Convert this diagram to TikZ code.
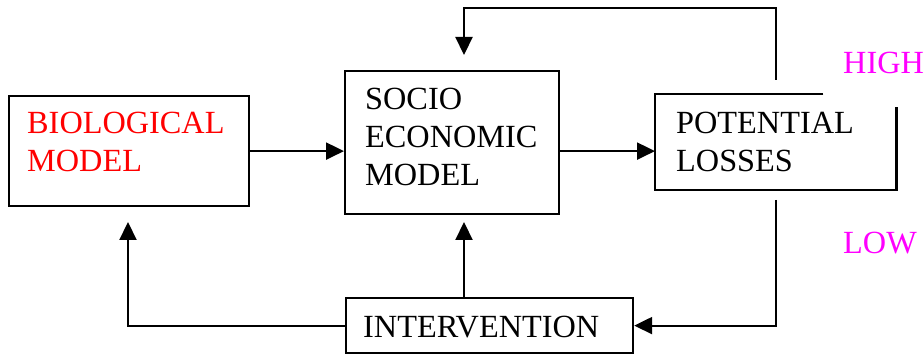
\documentclass[tikz,border=0pt]{standalone}
\usepackage{fontspec}
\setmainfont{Liberation Serif}
\usetikzlibrary{arrows.meta}
\definecolor{mag}{RGB}{255,0,255}
\begin{document}
\begin{tikzpicture}[x=1pt,y=-1pt,
  box/.style={draw, line width=2.2pt, inner sep=0pt, anchor=north west},
  lbl/.style={anchor=base west, inner sep=0pt, align=left, font=\fontsize{32.3}{38}\selectfont},
  conn/.style={line width=2.2pt, -{Triangle[length=18pt,width=17pt]}},
  wire/.style={line width=2.2pt}]
\useasboundingbox (0,0) rectangle (924,358);
% boxes
\node[box, minimum width=240pt, minimum height=110pt] (bio) at (8,95) {};
\node[box, minimum width=214pt, minimum height=143pt] (se) at (344,70) {};
\node[inner sep=0pt, anchor=north west, minimum width=241pt, minimum height=96pt] (pl) at (655,94) {};
\draw[wire, line join=miter] ([xshift=-73pt]pl.north east) -- (pl.north west) -- (pl.south west) -- (pl.south east) -- ([yshift=-13pt]pl.north east);
\node[box, minimum width=287pt, minimum height=55pt] (int) at (345,297) {};
% texts (base anchor = last line)
\node[lbl, text=red] (biot) at (27,172) {BIOLOGICAL\\MODEL};
\node[lbl] (set) at (365,186) {SOCIO\\ECONOMIC\\MODEL};
\node[lbl] (plt) at (676,172) {POTENTIAL\\LOSSES};
\node[lbl] (intt) at (363,337) {INTERVENTION};
\node[lbl, text=mag] (high) at (843,74) {HIGH};
\node[lbl, text=mag] (low) at (843,254) {LOW};
% connectors
\coordinate (plTop) at (776,80);
\coordinate (seTop) at (464,55);
\coordinate (plBot) at (776,200);
\coordinate (bioBot) at (128,222);
\coordinate (seBot) at (464,222);
\draw[conn] (bio.east) -- (bio.east -| se.west);
\draw[conn] (bio.east -| se.east) -- (bio.east -| pl.west);
\draw[conn] (plTop) -- ++(0,-72) -| (seTop);
\draw[conn] (plBot) |- (int.east);
\draw[conn] (int.west) -| (bioBot);
\draw[conn] (int.north -| seBot) -- (seBot);
\end{tikzpicture}
\end{document}
